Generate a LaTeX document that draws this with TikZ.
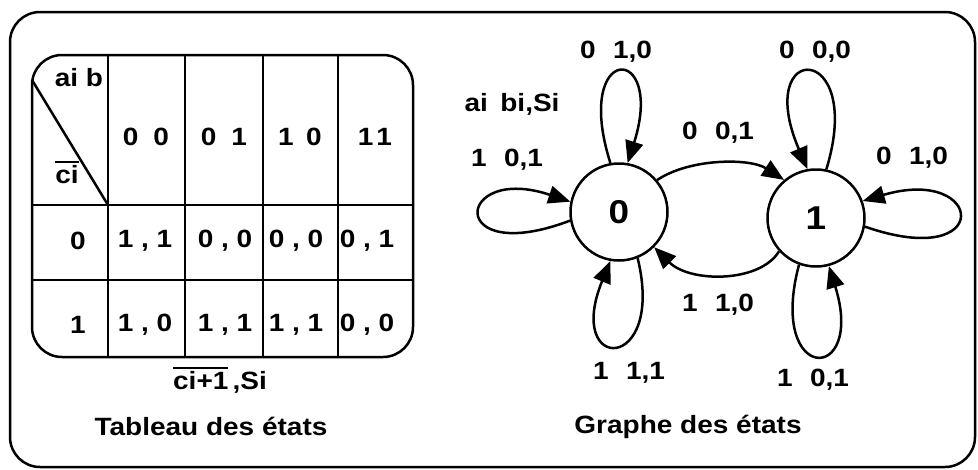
\documentclass[tikz,border=0pt]{standalone}
\usepackage{fontspec}
\setmainfont{Liberation Sans}[FakeStretch=1.12]
\usetikzlibrary{arrows.meta}

\newcommand{\barre}[1]{\leavevmode\vbox{\hrule height 2.5pt \kern 2pt \hbox{#1}}}

\tikzset{
	trait/.style={line width=2.5pt},
	txt/.style={font=\fontsize{25}{29}\bfseries\selectfont, inner sep=0pt},
	etat/.style={circle, draw, line width=2.5pt, minimum size=97pt, inner sep=0pt,
		font=\fontsize{33}{36}\bfseries\selectfont},
	fleche/.style={line width=2.5pt, -{Triangle[length=22pt,width=18pt]}},
}

\begin{document}
\begin{tikzpicture}[x=1pt, y=-1pt, line join=round]
	\useasboundingbox (0,0) rectangle (978,469);
	% Cadre
	\draw[trait, rounded corners=30pt] (10,12) rectangle (975,467);

	% Tableau des etats
	\draw[trait, rounded corners=30pt] (32,55) rectangle (413,357);
	\foreach \x in {108,185,263,338}
		\draw[trait] (\x,55) -- (\x,357);
	\foreach \y in {205,280}
		\draw[trait] (32,\y) -- (413,\y);
	\draw[trait] (32,80) -- (108,205);
	\node[txt] (ab) at (79,78) {ai~b};
	\node[txt] (ci) at (67,172) {\barre{ci}};
	% Entrees ai bi
	\node[txt] (h1) at (146,137) {0\hspace{.6em}0};
	\node[txt] (h2) at (224,137) {0\hspace{.6em}1};
	\node[txt] (h3) at (300,137) {1\hspace{.5em}0};
	\node[txt] (h4) at (375,137) {1\hspace{.12em}1};
	% Lignes ci
	\node[txt] (r0) at (78,241) {0};
	\node[txt] (r1) at (78,325) {1};
	% Sorties
	\foreach \n/\x/\t in {a/145/{1 , 1}, b/225/{0 , 0}, c/296/{0 , 0}, d/367/{0 , 1}}
		\node[txt] (c0\n) at (\x,241) {\t};
	\foreach \n/\x/\t in {a/145/{1 , 0}, b/225/{1 , 1}, c/296/{1 , 1}, d/367/{0 , 0}}
		\node[txt] (c1\n) at (\x,325) {\t};
	\node[txt] (sortie) at (220,380) {\barre{ci+1}\,,Si};
	\node[txt] (titre1) at (211,426) {Tableau des états};

	% Graphe des etats
	\node[etat] (s0) at (619,212) {0};
	\node[etat] (s1) at (816,218) {1};
	\draw[fleche] (s0.100) .. controls (572,42) and (666,42) .. (s0.80);
	\draw[fleche] (s0.190) .. controls (445,268) and (455,163) .. (s0.168);
	\draw[fleche] (s0.-68) .. controls (666,374) and (564,374) .. (s0.-100);
	\draw[fleche] (s0.40) .. controls (690,158) and (750,158) .. (s1.130);
	\draw[fleche] (s1.222) .. controls (760,283) and (690,283) .. (s0.-45);
	\draw[fleche] (s1.78) .. controls (866,40) and (752,40) .. (s1.100);
	\draw[fleche] (s1.-10) .. controls (995,272) and (985,165) .. (s1.20);
	\draw[fleche] (s1.-110) .. controls (767,385) and (866,385) .. (s1.-75);
	% Etiquettes
	\node[txt] (e1) at (616,52) {0\hspace{.7em}1,0};
	\node[txt] (e2) at (815,52) {0\hspace{.7em}0,0};
	\node[txt] (e3) at (512,104) {ai\hspace{.5em}bi,Si};
	\node[txt] (e4) at (507,160) {1\hspace{.7em}0,1};
	\node[txt] (e5) at (718,133) {0\hspace{.7em}0,1};
	\node[txt] (e6) at (912,158) {0\hspace{.7em}1,0};
	\node[txt] (e7) at (718,305) {1\hspace{.7em}1,0};
	\node[txt] (e8) at (629,373) {1\hspace{.7em}1,1};
	\node[txt] (e9) at (813,380) {1\hspace{.7em}0,1};
	\node[txt] (titre2) at (688,427) {Graphe des états};
\end{tikzpicture}
\end{document}
